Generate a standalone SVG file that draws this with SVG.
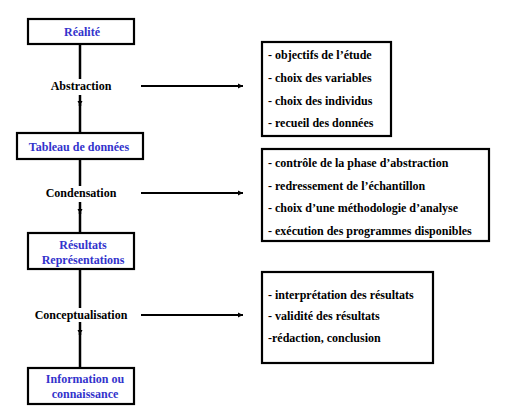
<svg xmlns="http://www.w3.org/2000/svg" width="507" height="410" viewBox="0 0 507 410">
<defs>
<style>
text{font-family:"Liberation Serif","Times New Roman",serif;font-weight:bold;font-size:12px;fill:#000}
.ttl{fill:#3333cc;text-anchor:middle}
.lbl{text-anchor:middle}
.box{fill:#fff;stroke:#000;stroke-width:2.2}
.v{stroke:#000;stroke-width:2.5;fill:none}
.h{stroke:#000;stroke-width:2;fill:none}
</style>
<marker id="ah" markerWidth="6" markerHeight="6" refX="5" refY="3" orient="auto" markerUnits="userSpaceOnUse">
<path d="M0,0.5 L5,3 L0,5.5 Z" fill="#000"/>
</marker>
</defs>
<g id="connectors">
<line class="v" x1="80" y1="44" x2="80" y2="79"/>
<line class="v" x1="80" y1="95" x2="80" y2="106" marker-end="url(#ah)"/>
<line class="v" x1="80" y1="104" x2="80" y2="133"/>
<line class="v" x1="80" y1="159" x2="80" y2="186"/>
<line class="v" x1="80" y1="202" x2="80" y2="214" marker-end="url(#ah)"/>
<line class="v" x1="80" y1="212" x2="80" y2="233"/>
<line class="v" x1="80" y1="269" x2="80" y2="308"/>
<line class="v" x1="80" y1="322" x2="80" y2="335" marker-end="url(#ah)"/>
<line class="v" x1="80" y1="333" x2="80" y2="368"/>
<line class="h" x1="141" y1="86" x2="243" y2="86" marker-end="url(#ah)"/>
<line class="h" x1="141" y1="193" x2="243" y2="193" marker-end="url(#ah)"/>
<line class="h" x1="141" y1="315" x2="243" y2="315" marker-end="url(#ah)"/>
</g>
<g id="realite">
<rect class="box" x="28" y="19" width="106" height="25"/>
<text class="ttl" x="82" y="36">Réalité</text>
</g>
<g id="abstraction">
<text class="lbl" x="81" y="90">Abstraction</text>
</g>
<g id="tableau">
<rect class="box" x="17" y="133" width="126" height="26"/>
<text class="ttl" x="79" y="151">Tableau de données</text>
</g>
<g id="condensation">
<text class="lbl" x="81" y="197">Condensation</text>
</g>
<g id="resultats">
<rect class="box" x="28" y="233" width="106" height="36"/>
<text class="ttl" x="83" y="249">Résultats</text>
<text class="ttl" x="83" y="264">Représentations</text>
</g>
<g id="conceptualisation">
<text class="lbl" x="81" y="319">Conceptualisation</text>
</g>
<g id="information">
<rect class="box" x="28" y="368" width="106" height="36"/>
<text class="ttl" x="85" y="383">Information ou</text>
<text class="ttl" x="85" y="398">connaissance</text>
</g>
<g id="details-abstraction">
<rect class="box" x="262" y="42" width="129" height="94"/>
<text x="268" y="59">- objectifs de l’étude</text>
<text x="268" y="82">- choix des variables</text>
<text x="268" y="105">- choix des individus</text>
<text x="268" y="127">- recueil des données</text>
</g>
<g id="details-condensation">
<rect class="box" x="262" y="149" width="227" height="92"/>
<text x="268" y="167">- contrôle de la phase d’abstraction</text>
<text x="268" y="190">- redressement de l’échantillon</text>
<text x="268" y="212">- choix d’une méthodologie d’analyse</text>
<text x="268" y="235">- exécution des programmes disponibles</text>
</g>
<g id="details-conceptualisation">
<rect class="box" x="262" y="272" width="171" height="91"/>
<text x="268" y="299">- interprétation des résultats</text>
<text x="268" y="320">- validité des résultats</text>
<text x="268" y="342">-rédaction, conclusion</text>
</g>
</svg>
